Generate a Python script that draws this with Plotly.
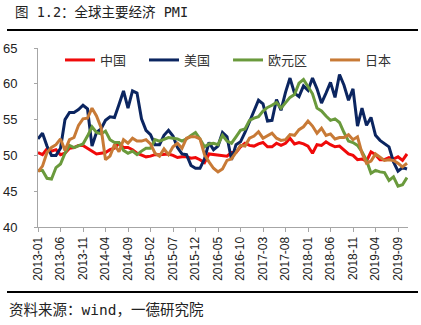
import plotly.graph_objects as go

months = [f"{y}-{m:02d}" for y in range(2013, 2020) for m in range(1, 13)][:83]

china = [50.4, 50.1, 50.9, 50.6, 50.8, 50.1, 50.3, 51.0, 51.1, 51.4, 51.4, 51.0,
         50.5, 50.2, 50.3, 50.4, 50.8, 51.0, 51.7, 51.1, 51.1, 50.8, 50.3, 50.1,
         49.8, 49.9, 50.1, 50.1, 50.2, 50.2, 50.0, 49.7, 49.8, 49.8, 49.6, 49.7,
         49.4, 49.0, 50.2, 50.1, 50.1, 50.0, 49.9, 50.4, 50.4, 51.2, 51.7, 51.4,
         51.3, 51.6, 51.8, 51.2, 51.2, 51.7, 51.4, 51.7, 52.4, 51.6, 51.8, 51.6,
         51.3, 50.3, 51.5, 51.4, 51.9, 51.5, 51.2, 51.3, 50.8, 50.2, 50.0, 49.4,
         49.5, 49.2, 50.5, 50.1, 49.4, 49.4, 49.7, 49.5, 49.8, 49.3, 50.2]

usa = [52.3, 53.1, 51.3, 50.0, 50.0, 51.0, 55.0, 56.0, 56.0, 56.4, 57.0, 56.5,
       51.3, 53.2, 53.7, 54.9, 55.4, 55.3, 57.1, 59.0, 56.6, 59.0, 58.7, 55.1,
       53.5, 52.9, 51.5, 51.5, 52.8, 53.5, 52.7, 51.1, 50.2, 50.1, 48.6, 48.2,
       48.2, 49.5, 51.8, 50.8, 51.3, 53.2, 52.6, 49.4, 51.5, 51.9, 53.2, 54.7,
       56.0, 57.7, 57.2, 54.8, 54.9, 57.8, 56.3, 58.8, 60.8, 58.7, 58.2, 59.7,
       59.1, 60.8, 59.3, 57.3, 58.7, 60.2, 58.1, 61.3, 59.8, 57.7, 59.3, 54.1,
       56.6, 54.2, 55.3, 52.8, 52.1, 51.7, 51.2, 49.1, 47.8, 48.3, 48.1]

euro = [47.9, 47.9, 46.8, 46.7, 48.3, 48.8, 50.3, 51.4, 51.1, 51.3, 51.6, 52.7,
        54.0, 53.2, 53.0, 53.4, 52.2, 51.8, 51.8, 50.7, 50.3, 50.6, 50.1, 50.6,
        51.0, 51.0, 52.2, 52.0, 52.2, 52.5, 52.4, 52.3, 52.0, 52.3, 52.8, 53.2,
        52.3, 51.2, 51.6, 51.7, 51.5, 52.8, 52.0, 51.7, 52.6, 53.5, 53.7, 54.9,
        55.2, 55.4, 56.2, 56.7, 57.0, 57.4, 56.6, 57.4, 58.1, 58.5, 60.1, 60.6,
        59.6, 58.6, 56.6, 56.2, 55.5, 54.9, 55.1, 54.6, 53.2, 52.0, 51.8, 51.4,
        50.5, 49.3, 47.5, 47.9, 47.7, 47.6, 46.5, 47.0, 45.7, 45.9, 46.9]

japan = [47.7, 48.5, 50.4, 51.1, 51.5, 52.3, 50.7, 52.2, 52.5, 54.2, 55.1, 55.2,
         56.6, 55.5, 53.9, 49.4, 49.9, 51.5, 50.5, 52.2, 51.7, 52.4, 52.0, 52.0,
         52.2, 51.6, 50.3, 49.9, 50.9, 50.1, 51.2, 51.7, 51.0, 52.4, 52.6, 52.6,
         52.3, 50.1, 49.1, 48.2, 47.7, 48.1, 49.3, 49.5, 50.4, 51.4, 51.3, 52.4,
         52.7, 53.3, 52.4, 52.7, 53.1, 52.4, 52.1, 52.2, 52.9, 52.8, 53.6, 54.0,
         54.8, 54.1, 53.1, 53.8, 52.8, 53.0, 52.3, 52.5, 52.5, 52.9, 52.2, 52.6,
         50.3, 48.9, 49.2, 50.2, 49.8, 49.3, 49.4, 49.3, 48.9, 48.4, 48.9]

series_names = ["中国", "美国", "欧元区", "日本"]
series_values = [china, usa, euro, japan]
series_colors = ["#F00A0A", "#0B2560", "#6A9A3C", "#C87A36"]

tick_labels = months[::5]
y_ticks = [40, 45, 50, 55, 60, 65]

title_text = "图 1.2：全球主要经济 PMI"
source_text = "资料来源：wind，一德研究院"

W, H = 421, 325
ML, MR, MT, MB = 38, 13, 48, 98
PW, PH = W - ML - MR, H - MT - MB

def px_x(p):
    return (p - ML) / PW

def px_y(p):
    return (H - MB - p) / PH

fig = go.Figure()
n = len(series_names)
for i, (name, vals, col) in enumerate(zip(series_names, series_values, series_colors)):
    label = name + ("\u3000" if i < n - 1 else "")
    fig.add_trace(go.Scatter(x=months, y=vals, mode="lines", name=label,
                             line=dict(color=col, width=3)))

cjk = "DejaVu Sans Mono, Noto Sans CJK SC"
fig.update_layout(
    width=W, height=H,
    margin=dict(l=ML, r=MR, t=MT, b=MB, autoexpand=False),
    paper_bgcolor="white", plot_bgcolor="white",
    showlegend=True,
    legend=dict(orientation="h", x=px_x(60), y=px_y(45), xanchor="left", yanchor="top",
                font=dict(family="Noto Sans CJK SC", size=13, color="#333"),
                bgcolor="rgba(0,0,0,0)", itemwidth=30, tracegroupgap=0),
    xaxis=dict(type="category", range=[0, PW / 4.5], tickmode="array",
               tickvals=tick_labels, ticktext=tick_labels, tickangle=-90,
               showgrid=False, showline=True, linecolor="#A6A6A6", linewidth=1,
               ticks="outside", ticklen=4, tickcolor="#A6A6A6",
               tickfont=dict(family="Liberation Sans, Arial", size=12, color="#222")),
    yaxis=dict(range=[40, 65], tickvals=y_ticks, showgrid=False, zeroline=False,
               showline=True, linecolor="#A6A6A6", linewidth=1,
               ticks="outside", ticklen=3, tickcolor="#A6A6A6", ticklabelstandoff=14,
               tickfont=dict(family="Liberation Sans, Arial", size=13, color="#222")),
    annotations=[
        dict(text=title_text, xref="paper", yref="paper", x=px_x(13), y=px_y(12),
             xanchor="left", yanchor="middle", showarrow=False,
             font=dict(family=cjk, size=13.5, color="#222")),
        dict(text=source_text, xref="paper", yref="paper", x=px_x(7), y=px_y(310),
             xanchor="left", yanchor="middle", showarrow=False,
             font=dict(family=cjk, size=14.5, color="#222")),
    ],
    shapes=[
        dict(type="line", xref="paper", yref="paper", x0=px_x(7), x1=px_x(418),
             y0=px_y(30), y1=px_y(30), line=dict(color="black", width=2)),
        dict(type="line", xref="paper", yref="paper", x0=px_x(7), x1=px_x(418),
             y0=px_y(292), y1=px_y(292), line=dict(color="black", width=2)),
    ],
)

fig.write_html("out.html")
